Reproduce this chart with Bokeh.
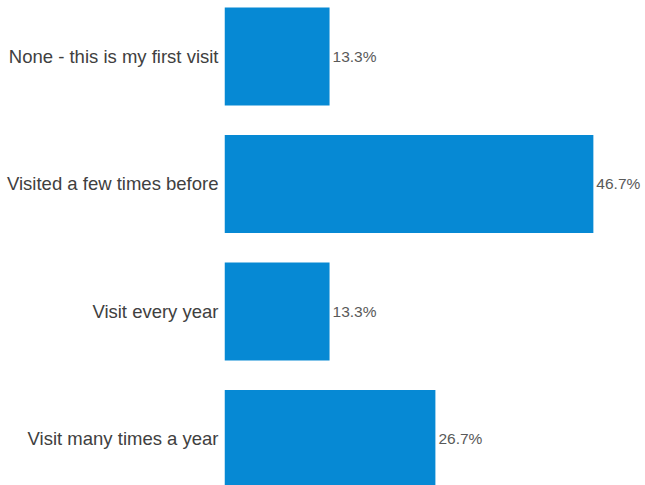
from bokeh.plotting import figure
from bokeh.models import ColumnDataSource, Range1d, FixedTicker
from bokeh.core.properties import value
from bokeh.embed import file_html
from bokeh.resources import INLINE

categories = ["None - this is my first visit", "Visited a few times before",
              "Visit every year", "Visit many times a year"]
percents = [13.3, 46.7, 13.3, 26.7]
labels = ["13.3%", "46.7%", "13.3%", "26.7%"]

pos = list(range(len(categories)))
src = ColumnDataSource(dict(y=pos, v=percents, lab=labels))

p = figure(width=645, height=485, output_backend="svg", toolbar_location=None,
           x_range=Range1d(0, 53.3), y_range=Range1d(3.365, -0.439),
           min_border_left=224, min_border_right=0, min_border_top=0, min_border_bottom=0)

p.hbar(y="y", right="v", left=0, height=0.77, source=src,
       fill_color="#0689d4", line_color=None)
p.text(x="v", y="y", text="lab", source=src, x_offset=3,
       text_baseline="middle", text_align="left",
       text_font=value("Liberation Sans"), text_font_size="15.5px", text_color="#595959")

p.xaxis.visible = False
p.yaxis.ticker = FixedTicker(ticks=pos)
p.yaxis.major_label_overrides = {i: c for i, c in zip(pos, categories)}
p.yaxis.major_label_text_font = "Liberation Sans"
p.yaxis.major_label_text_font_size = "18.5px"
p.yaxis.major_label_text_color = "#404040"
p.yaxis.major_label_standoff = 6
p.yaxis.axis_line_color = None
p.yaxis.major_tick_line_color = None
p.yaxis.minor_tick_line_color = None
p.yaxis.major_tick_out = 0
p.yaxis.major_tick_in = 0
p.xgrid.visible = False
p.ygrid.visible = False
p.outline_line_color = None

open("out.html", "w").write(file_html(p, INLINE))
